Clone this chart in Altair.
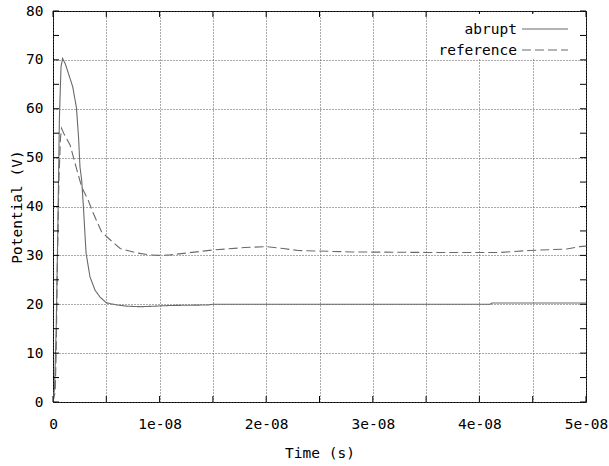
import altair as alt
import pandas as pd

# ---- data (time in ns, potential in V) ----
abrupt_t = [0, 0.15, 0.3, 0.45, 0.6, 0.75, 0.9, 1.15, 1.45, 1.85, 2.2, 2.4, 2.53, 2.69, 2.85,
            3.1, 3.47, 3.94, 4.4, 5.0, 6.0, 7.0, 8.2, 9.5, 11.0, 14.5, 15.0, 41.0, 41.2, 50.0]
abrupt_v = [0, 3, 15, 35, 58, 68.5, 70.3, 69.2, 67.2, 64.5, 60.2, 54, 48.1, 45.4, 40,
            30.5, 25.6, 22.9, 21.5, 20.3, 19.85, 19.6, 19.5, 19.6, 19.75, 19.85, 20.0, 20.0, 20.25, 20.25]

reference_t = [0, 0.2, 0.3, 0.4, 0.55, 0.7, 0.8, 1.0, 1.6, 2.16, 2.69, 3.3, 3.78, 4.56, 5.2,
               6.3, 7.85, 9.1, 10.0, 11.0, 15.0, 18.0, 20.0, 21.6, 23.0, 28.0, 35.0, 42.0,
               44.7, 48.2, 49.4, 50.0]
reference_v = [0, 2, 10, 27, 45, 54, 56, 55, 52.6, 48.1, 44, 41.3, 38.6, 34.8, 33.5,
               31.4, 30.5, 30.1, 30.0, 30.1, 31.1, 31.6, 31.8, 31.4, 31.0, 30.7, 30.6, 30.6,
               31.0, 31.3, 31.8, 31.9]

series_names = ["abrupt", "reference"]
series_dash = [[1, 0], [9, 4]]

x_ticks_ns = [0, 5, 10, 15, 20, 25, 30, 35, 40, 45, 50]
x_tick_labels = ["0", "", "1e-08", "", "2e-08", "", "3e-08", "", "4e-08", "", "5e-08"]
y_ticks = [0, 5, 10, 15, 20, 25, 30, 35, 40, 45, 50, 55, 60, 65, 70, 75, 80]
y_tick_labels = ["0", "", "10", "", "20", "", "30", "", "40", "", "50", "", "60", "", "70", "", "80"]

FONT = "DejaVu Sans Mono"
FS = 14.5
W, H = 533, 391
LINE_COLOR = "#6a6a6a"
X_MAX = 50 / 1e9

rows = []
for name, ts, vs in [("abrupt", abrupt_t, abrupt_v), ("reference", reference_t, reference_v)]:
    for t, v in zip(ts, vs):
        rows.append({"series": name, "t": t / 1e9, "v": v})
df = pd.DataFrame(rows)

x_vals = [t / 1e9 for t in x_ticks_ns]
x_label_expr = " : ".join(
    f"abs(datum.value - {x!r}) < 1e-12 ? '{lab}'" for x, lab in zip(x_vals, x_tick_labels)
) + " : ''"
y_label_expr = " : ".join(
    f"datum.value == {y} ? '{lab}'" for y, lab in zip(y_ticks, y_tick_labels)
) + " : ''"

x_scale = alt.Scale(domain=[0, X_MAX], nice=False, zero=False)
y_scale = alt.Scale(domain=[0, 80], nice=False)

x_enc = alt.X("t:Q", scale=x_scale, title="Time (s)",
              axis=alt.Axis(values=x_vals, labelExpr=x_label_expr, labelPadding=15,
                            titlePadding=16, labelFlush=False, labelOverlap=False))
y_enc = alt.Y("v:Q", scale=y_scale, title="Potential (V)",
              axis=alt.Axis(values=y_ticks, labelExpr=y_label_expr, labelPadding=10,
                            titlePadding=1, labelOverlap=False))

lines = alt.Chart(df).mark_line(strokeWidth=1.1, color=LINE_COLOR, clip=True).encode(
    x=x_enc,
    y=y_enc,
    strokeDash=alt.StrokeDash("series:N", scale=alt.Scale(domain=series_names, range=series_dash),
                              legend=None),
)

# inward tick marks on all four sides
xt_df = pd.DataFrame({"t": x_vals})
yt_df = pd.DataFrame({"v": y_ticks})
TK = 6
tick_bottom = alt.Chart(xt_df).mark_rule(color="black", strokeWidth=1).encode(
    x=alt.X("t:Q", scale=x_scale), y=alt.value(H), y2=alt.value(H - TK))
tick_top = alt.Chart(xt_df).mark_rule(color="black", strokeWidth=1).encode(
    x=alt.X("t:Q", scale=x_scale), y=alt.value(0), y2=alt.value(TK))
tick_left = alt.Chart(yt_df).mark_rule(color="black", strokeWidth=1).encode(
    y=alt.Y("v:Q", scale=y_scale), x=alt.value(0), x2=alt.value(TK))
tick_right = alt.Chart(yt_df).mark_rule(color="black", strokeWidth=1).encode(
    y=alt.Y("v:Q", scale=y_scale), x=alt.value(W - TK), x2=alt.value(W))

# key box (gnuplot style: label then line sample)
box = alt.Chart(pd.DataFrame({"k": [0]})).mark_rect(fill="white").encode(
    x=alt.value(382), x2=alt.value(524), y=alt.value(3), y2=alt.value(47))

legend_layers = [box]
for i, (name, dash) in enumerate(zip(series_names, series_dash)):
    d = pd.DataFrame({"name": [name]})
    base_y = 23 + 21 * i
    legend_layers.append(
        alt.Chart(d).mark_text(align="right", baseline="alphabetic", font=FONT, fontSize=FS,
                               color="black").encode(
            text="name:N", x=alt.value(464), y=alt.value(base_y)))
    legend_layers.append(
        alt.Chart(d).mark_rule(color=LINE_COLOR, strokeWidth=1.1, strokeDash=dash).encode(
            x=alt.value(469), x2=alt.value(515), y=alt.value(base_y - 5)))

chart = alt.layer(lines, tick_bottom, tick_top, tick_left, tick_right, *legend_layers).properties(
    width=W, height=H,
    padding={"left": 53, "top": 11, "right": 23, "bottom": 64},
    autosize=alt.AutoSizeParams(type="none"),
    background="white",
).configure_view(stroke="black", strokeWidth=1).configure_axis(
    domain=False, ticks=False,
    grid=True, gridColor="#555", gridDash=[1, 2], gridWidth=1, gridOpacity=1,
    labelFont=FONT, labelFontSize=FS, labelColor="black",
    titleFont=FONT, titleFontSize=FS, titleFontWeight="normal", titleColor="black",
)

chart.save("out.html", embed_options={"renderer": "svg", "actions": False})
